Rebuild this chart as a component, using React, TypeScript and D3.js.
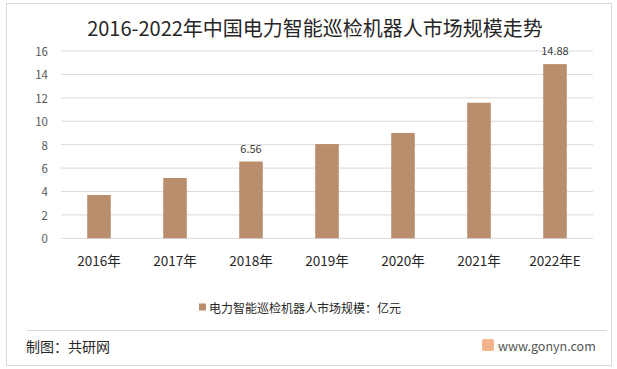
import React from 'react';
import { scaleBand, scaleLinear } from 'd3';

const years = ['2016年', '2017年', '2018年', '2019年', '2020年', '2021年', '2022年E'];
const marketSize = [3.7, 5.15, 6.56, 8.05, 9.0, 11.58, 14.88];
const labelledYears = ['2018年', '2022年E'];
const yTicks = [0, 2, 4, 6, 8, 10, 12, 14, 16];

const title = '2016-2022年中国电力智能巡检机器人市场规模走势';
const legendLabel = '电力智能巡检机器人市场规模：亿元';
const source = '制图：共研网';

const font = '"Microsoft YaHei", "Noto Sans CJK SC", sans-serif';
const barColor = '#BA8E6C';
const gridColor = '#D9D9D9';

const App = () => {
  const width = 617;
  const height = 369;
  const margin = { top: 51, right: 24, bottom: 131, left: 61 };

  const xScale = scaleBand()
    .domain(years)
    .range([margin.left, width - margin.right])
    .padding(0.69)
    .paddingOuter(0.345);

  const yScale = scaleLinear()
    .domain([0, 16])
    .range([height - margin.bottom + 0.3, margin.top]);

  return (
    <svg
      width={width}
      height={height}
      style={{ position: 'absolute', left: 0, top: 0, background: '#fff', fontFamily: font }}
    >
      {/* outer frame */}
      <rect x={6.5} y={3.5} width={605} height={362} fill="none" stroke={gridColor} />

      <text x={315} y={27} textAnchor="middle" dominantBaseline="central" fontSize={20} fill="#262626">
        {title}
      </text>

      {yTicks.map(t => (
        <g key={t} transform={`translate(0, ${yScale(t)})`}>
          <line x1={margin.left} x2={width - margin.right} stroke={gridColor} />
          <text x={48} textAnchor="end" dominantBaseline="central" fontSize={11.5} fill="#595959">
            {t}
          </text>
        </g>
      ))}

      {years.map((name, i) => {
        const x = xScale(name) as number;
        const y = yScale(marketSize[i]);
        const cx = x + xScale.bandwidth() / 2;
        return (
          <g key={name}>
            <rect
              x={x}
              y={y}
              width={xScale.bandwidth()}
              height={yScale(0) - y}
              fill={barColor}
            />
            {labelledYears.includes(name) && (
              <text x={cx} y={y - 14} textAnchor="middle" dominantBaseline="central" fontSize={11} fill="#404040">
                {marketSize[i].toFixed(2)}
              </text>
            )}
            <text x={cx} y={260} textAnchor="middle" dominantBaseline="central" fontSize={13.5} fill="#262626">
              {name}
            </text>
          </g>
        );
      })}

      {/* legend */}
      <rect x={199} y={303.5} width={7} height={7} fill={barColor} />
      <text x={209} y={307.5} dominantBaseline="central" fontSize={12} fill="#262626">
        {legendLabel}
      </text>

      <line x1={27} x2={607} y1={330.5} y2={330.5} stroke={gridColor} />
      <text x={26} y={345.5} dominantBaseline="central" fontSize={14} fill="#262626">
        {source}
      </text>

      {/* bottom-right watermark */}
      <rect x={482} y={339} width={12} height={12} rx={2} fill="#F0A070" opacity={0.8} />
      <text x={498} y={345.5} dominantBaseline="central" fontSize={12.5} fill="#555">
        www.gonyn.com
      </text>
    </svg>
  );
};

export default App;
